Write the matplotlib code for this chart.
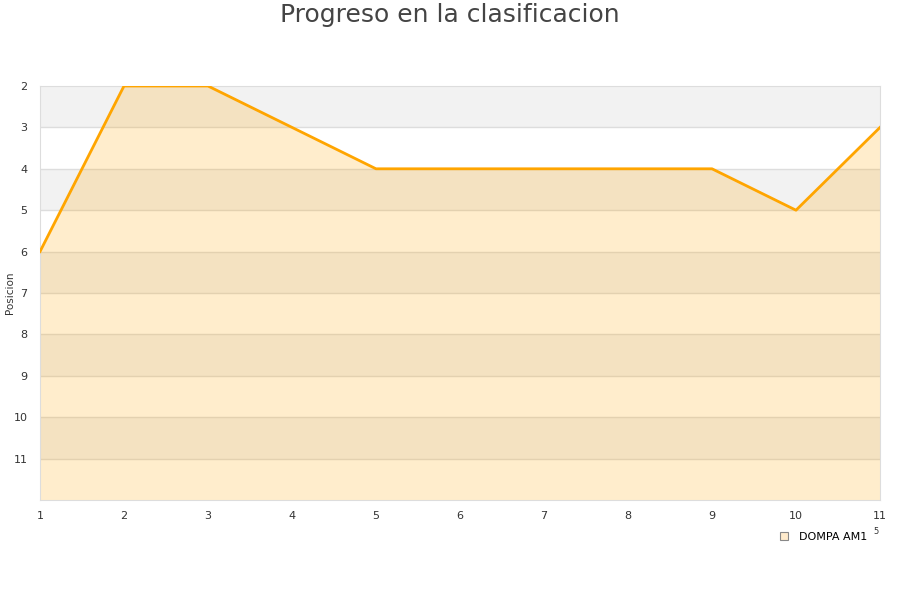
import matplotlib
matplotlib.use("Agg")
import matplotlib.pyplot as plt
from matplotlib.lines import Line2D

jornadas = [1, 2, 3, 4, 5, 6, 7, 8, 9, 10, 11]
posiciones = [6, 2, 2, 3, 4, 4, 4, 4, 4, 5, 3]
serie = "DOMPA AM1"
yticks = [2, 3, 4, 5, 6, 7, 8, 9, 10, 11]

fig = plt.figure(figsize=(9, 6), dpi=100)
ax = fig.add_axes([40/900, 1-500/600, 840/900, 414/600])

ax.set_xlim(1, 11)
ax.set_ylim(12, 2)

# alternating bands
for i, y in enumerate(range(2, 12)):
    if i % 2 == 0:
        ax.axhspan(y, y+1, color="#f2f2f2", zorder=0, lw=0)
for y in yticks[1:]:
    ax.axhline(y, color="#dddddd", lw=1, zorder=1)

ax.fill_between(jornadas, posiciones, 12, color="#ffa500", alpha=0.2, lw=0, zorder=2)
ax.plot(jornadas, posiciones, color="#ffa500", lw=2, zorder=3)

ax.set_xticks(jornadas)
ax.set_yticks(yticks)
ax.tick_params(axis="both", length=0, labelsize=8, colors="#333333")
ax.tick_params(axis="x", pad=8)
ax.tick_params(axis="y", pad=9)
for s in ax.spines.values():
    s.set_color("#dddddd")

fig.text(10/900, 1-293/600, "Posicion", rotation=90, fontsize=7.5, color="#333333",
         ha="center", va="center")

fig.text(0.5, 1-15/600, "Progreso en la clasificacion", ha="center", va="center",
         fontsize=18, color="#444444")

handle = Line2D([], [], marker="s", linestyle="none", markersize=6,
                markerfacecolor="#ffebcc", markeredgecolor="#888888", markeredgewidth=0.8)
leg = fig.legend([handle], [serie], loc="center", bbox_to_anchor=(820/900, 1-537/600),
                 frameon=False, fontsize=8, handletextpad=0.4)
fig.text(876/900, 1-532/600, "5", fontsize=6, color="#333333", ha="center", va="center")

fig.savefig("out.png", dpi=100)
